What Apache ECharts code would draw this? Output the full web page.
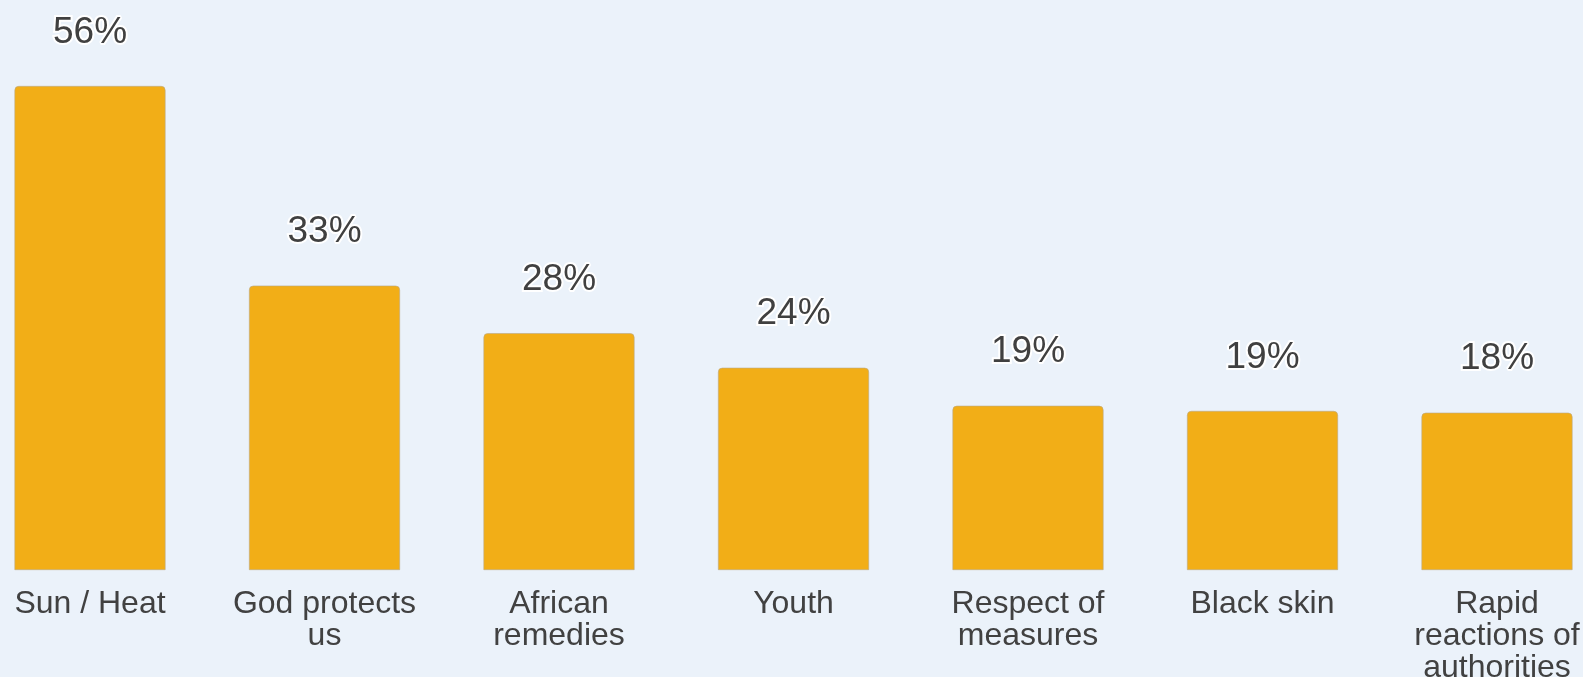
<!DOCTYPE html>
<html>
<head>
<meta charset="utf-8">
<script src="https://cdn.jsdelivr.net/npm/echarts@6/dist/echarts.min.js"></script>
<style>
	html, body {margin: 0; padding: 0; background: #ebf2fa;}
	#chart {width: 1583px; height: 677px;}
</style>
</head>
<body>
<div id="chart"></div>
<script>
//	data
var categories = ['Sun / Heat', 'God protects\nus', 'African\nremedies', 'Youth', 'Respect of\nmeasures', 'Black skin', 'Rapid\nreactions of\nauthorities'];
var values = [56, 32.9, 27.4, 23.4, 19.0, 18.4, 18.2];
var valueLabels = ['56%', '33%', '28%', '24%', '19%', '19%', '18%'];

var myChart = echarts.init(document.getElementById('chart'));

var option = {
	backgroundColor: '#ebf2fa',
	animation: false,
	grid: {
		left: 90,
		right: 86,
		top: 86,
		bottom: 107,
		containLabel: false,
		outerBoundsMode: 'none'
	},
	xAxis: {
		type: 'category',
		boundaryGap: false,
		data: categories,
		axisLine: {show: false},
		axisTick: {show: false},
		splitLine: {show: false},
		axisLabel: {
			interval: 0,
			margin: 18,
			color: '#414141',
			fontFamily: 'Liberation Sans, Arial, sans-serif',
			fontSize: 32,
			lineHeight: 32
		}
	},
	yAxis: {
		type: 'value',
		min: 0,
		max: 56,
		show: false
	},
	series: [
		{
			type: 'bar',
			barWidth: 151,
			data: values,
			itemStyle: {
				color: '#f2ae17',
				borderColor: '#b8a886',
				borderWidth: 0.6,
				borderRadius: [4, 4, 0, 0]
			},
			label: {
				show: true,
				position: 'top',
				distance: 35,
				color: '#404040',
				fontFamily: 'Liberation Sans, Arial, sans-serif',
				fontSize: 37,
				textBorderColor: '#fff',
				textBorderWidth: 4,
				formatter: function(p) {
					return valueLabels[p.dataIndex];
				}
			}
		}
	]
};

myChart.setOption(option);
</script>
</body>
</html>
